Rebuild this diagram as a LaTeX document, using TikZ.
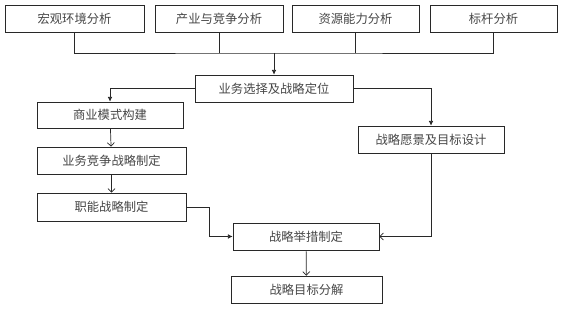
\documentclass[tikz,border=0pt]{standalone}
\usepackage{fontspec}
\usepackage{xcolor}
\usepackage{tikz}
\usetikzlibrary{arrows.meta,calc}
\newfontfamily\cjk{Noto Sans CJK SC}
\definecolor{flowline}{RGB}{40,40,40}
\definecolor{flowtext}{RGB}{70,70,70}

\begin{document}
\begin{tikzpicture}[font=\cjk\fontsize{10.5pt}{12pt}\selectfont,
    stagebox/.style={draw=flowline, line width=0.6pt, text=flowtext, inner sep=0pt, minimum height=0.81cm},
    link/.style={draw=flowline, line width=0.6pt},
    solidtip/.style={link, -{Latex[length=4pt,width=4pt]}},
    opentip/.style={link, -{Straight Barb[length=3pt,width=6pt]}}]
  \useasboundingbox (0,0) rectangle (16.83,9.3);
  % ---- top row: the four analyses ----
  \node[stagebox, minimum width=4.17cm] (macro)    at (2.235,8.745)  {宏观环境分析};
  \node[stagebox, minimum width=3.84cm] (industry) at (6.57,8.745)   {产业与竞争分析};
  \node[stagebox, minimum width=3.81cm] (resource) at (10.665,8.745) {资源能力分析};
  \node[stagebox, minimum width=3.81cm] (bench)    at (14.805,8.745) {标杆分析};
  % ---- middle: choice, then the two branches ----
  \node[stagebox, minimum width=4.74cm] (choice)   at (8.22,6.645)   {业务选择及战略定位};
  \node[stagebox, minimum width=4.38cm, minimum height=0.78cm] (model) at (3.3,5.85) {商业模式构建};
  \node[stagebox, minimum width=4.47cm] (compete)  at (3.345,4.485)  {业务竞争战略制定};
  \node[stagebox, minimum width=4.47cm, minimum height=0.84cm] (func) at (3.345,3.09) {职能战略制定};
  \node[stagebox, minimum width=4.38cm] (vision)   at (12.93,5.115)  {战略愿景及目标设计};
  % ---- bottom: measures and breakdown ----
  \node[stagebox, minimum width=4.38cm] (measure)  at (9.18,2.205)   {战略举措制定};
  \node[stagebox, minimum width=4.53cm] (decomp)   at (9.195,0.615)  {战略目标分解};
  \coordinate (bus) at (8.22,7.71);
  \coordinate (bend) at ($(func.east)+(0.69,0)$);
  % ---- connectors ----
  \draw[link] (macro.south) |- (bus) -| (bench.south);
  \draw[link] (industry.south) -- (industry.south |- bus);
  \draw[link] (resource.south) -- (resource.south |- bus);
  \draw[solidtip] (bus) -- (choice.north);
  \draw[solidtip] (choice.west) -| (model.north);
  \draw[solidtip] (choice.east) -| (vision.north);
  \draw[opentip] (model) -- (compete);
  \draw[opentip] (compete) -- (func);
  \draw[solidtip] (func.east) -- (bend) |- (measure.west);
  \draw[opentip] (vision.south) |- (measure.east);
  \draw[opentip] (measure) -- (decomp);
\end{tikzpicture}
\end{document}
